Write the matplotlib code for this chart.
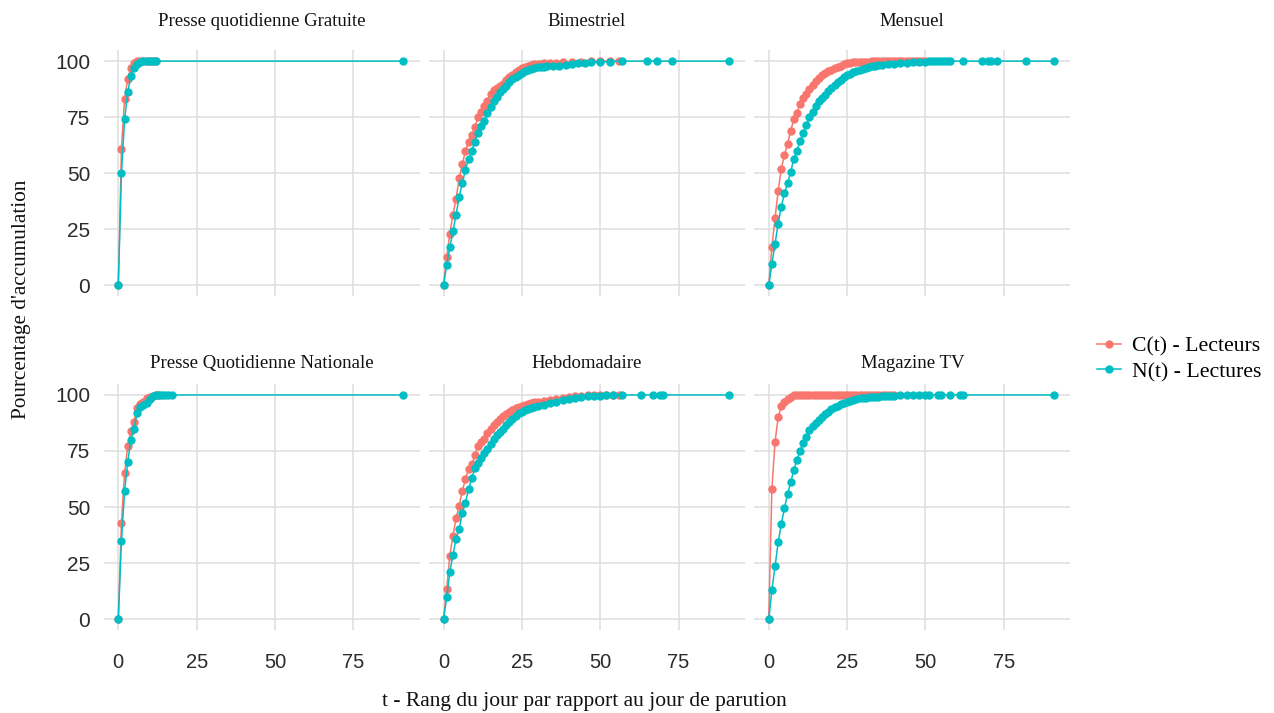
import matplotlib
matplotlib.use("Agg")
import matplotlib.pyplot as plt
from matplotlib.lines import Line2D

# panel titles (facet order, row by row)
panels = ["Presse quotidienne Gratuite", "Bimestriel", "Mensuel",
          "Presse Quotidienne Nationale", "Hebdomadaire", "Magazine TV"]

# C(t) - Lecteurs / N(t) - Lectures
gratuite_t_c = [0, 1, 2, 3, 4, 5, 6, 7, 8, 9, 10, 11, 12]
gratuite_c = [0, 61, 83, 92, 97, 99, 100, 100, 100, 100, 100, 100, 100]
gratuite_t_n = [0, 1, 2, 3, 4, 5, 6, 7, 8, 9, 10, 11, 12, 91]
gratuite_n = [0, 50, 74, 86, 93.5, 97, 98.5, 99.5, 100, 100, 100, 100, 100, 100]

bimestriel_t_c = [0, 1, 2, 3, 4, 5, 6, 7, 8, 9, 10, 11, 12, 13, 14, 15, 16, 17, 18, 19,
                  20, 21, 22, 23, 24, 25, 26, 27, 28, 29, 30, 31, 32,
                  34, 36, 38, 41, 44, 47, 50, 53, 56]
bimestriel_c = [0, 12.5, 23, 31.5, 38.5, 48, 54, 60, 64, 67, 70.5, 75, 77.5, 80, 82, 85.5, 87, 88, 89, 90,
                91.5, 93, 94, 95, 96, 96.8, 97.3, 97.8, 98.2, 98.5, 98.7, 98.9, 99,
                99.2, 99.3, 99.4, 99.6, 99.8, 100, 100, 100, 100]
bimestriel_t_n = [0, 1, 2, 3, 4, 5, 6, 7, 8, 9, 10, 11, 12, 13, 14, 15, 16, 17, 18, 19,
                  20, 21, 22, 23, 24, 25, 26, 27, 28, 29, 30, 31, 32, 33,
                  35, 37, 39, 41, 43, 45, 47, 50, 53, 57, 65, 68, 73, 91]
bimestriel_n = [0, 9, 17, 24, 31.5, 39.5, 45.5, 51.5, 56.5, 60, 64, 68, 71, 73.5, 77, 79.5, 82, 84, 86, 87.5,
                89, 90.5, 92, 93, 94, 94.8, 95.5, 96, 96.5, 97, 97.2, 97.4, 97.5, 97.6,
                97.7, 97.9, 98.2, 98.5, 99, 99.3, 99.5, 99.7, 99.8, 100, 100, 100, 100, 100]

mensuel_t_c = [0, 1, 2, 3, 4, 5, 6, 7, 8, 9, 10, 11, 12, 13, 14, 15, 16, 17, 18, 19,
               20, 21, 22, 23, 24, 25, 26, 27, 28, 29, 30, 31, 32, 33, 34, 35, 36, 37, 38, 39,
               40, 41, 42, 43, 44, 45, 46, 47, 48, 49, 50]
mensuel_c = [0, 17, 30, 42, 52, 58, 63, 69, 74, 77, 81, 83.5, 85.5, 87.5, 89.5, 91, 92.5, 94, 94.8, 95.4,
             96, 96.8, 97.5, 98, 98.6, 99, 99.2, 99.4, 99.5, 99.6, 99.7, 99.75, 99.8, 99.9, 100, 100, 100, 100, 100, 100,
             100, 100, 100, 100, 100, 100, 100, 100, 100, 100, 100]
mensuel_t_n = [0, 1, 2, 3, 4, 5, 6, 7, 8, 9, 10, 11, 12, 13, 14, 15, 16, 17, 18, 19,
               20, 21, 22, 23, 24, 25, 26, 27, 28, 29, 30, 31, 32, 33, 34, 35, 36,
               38, 40, 42, 44, 46, 48, 50, 51, 52, 53, 54, 55, 56, 57, 58, 62, 68, 70, 71, 73, 82, 91]
mensuel_n = [0, 9.5, 18.5, 27.5, 35, 41, 45.5, 50.5, 56.5, 60, 64.5, 68, 71.5, 75, 77.5, 80, 82, 83.5, 85, 86.5,
             88, 89.3, 90.5, 91.7, 92.7, 93.6, 94.3, 95, 95.6, 96.1, 96.6, 97, 97.3, 97.6, 97.9, 98.1, 98.3,
             98.6, 98.9, 99.1, 99.3, 99.5, 99.7, 99.8, 99.85, 99.9, 99.95, 100, 100, 100, 100, 100, 100, 100, 100,
             100, 100, 100, 100]

pqn_t_c = [0, 1, 2, 3, 4, 5, 6, 7, 8, 9, 10, 11, 12, 13]
pqn_c = [0, 43, 65, 77, 84, 88, 94, 96, 97, 98.5, 99.3, 99.7, 100, 100]
pqn_t_n = [0, 1, 2, 3, 4, 5, 6, 7, 8, 9, 10, 11, 12, 13, 14, 15, 16, 17, 91]
pqn_n = [0, 35, 57, 70, 80, 85, 92, 94.5, 95.5, 96.5, 98, 99.5, 99.8, 100, 100, 100, 100, 100, 100]

hebdo_t_c = [0, 1, 2, 3, 4, 5, 6, 7, 8, 9, 10, 11, 12, 13, 14, 15, 16, 17, 18, 19,
             20, 21, 22, 23, 24, 25, 26, 27, 28, 29, 30,
             32, 34, 36, 38, 40, 42, 44, 46, 48, 50, 52, 54, 56]
hebdo_c = [0, 13.4, 28.3, 37.2, 45, 50.6, 57.3, 62.5, 67, 69, 73, 77, 79, 80.5, 83, 84.8, 86.5, 88, 89.2, 90.5,
           91.5, 92.5, 93.3, 94, 94.7, 95.2, 95.6, 96, 96.4, 96.7, 97,
           97.5, 97.9, 98.3, 98.7, 99.1, 99.4, 99.6, 99.8, 99.9, 100, 100, 100, 100]
hebdo_t_n = [0, 1, 2, 3, 4, 5, 6, 7, 8, 9, 10, 11, 12, 13, 14, 15, 16, 17, 18, 19,
             20, 21, 22, 23, 24, 25, 26, 27, 28, 29, 30,
             32, 34, 36, 38, 40, 42, 44, 46, 48, 50, 52, 54, 57, 63, 67, 69, 70, 91]
hebdo_n = [0, 9.7, 20.8, 28.7, 35.7, 40.2, 47.3, 52, 58, 62.8, 67.3, 69.6, 72, 74, 76, 78, 80.4, 82, 83.5, 84.8,
           86.5, 87.8, 89.3, 90.8, 91.8, 92.6, 93.2, 93.8, 94.2, 94.6, 95,
           95.7, 96.3, 97, 97.6, 98, 98.5, 99, 99.4, 99.6, 99.7, 99.8, 99.9, 100, 100, 100, 100, 100, 100]

tv_t_c = [0, 1, 2, 3, 4, 5, 6, 7, 8, 9, 10, 11, 12, 13, 14, 15, 16, 17, 18, 19,
          20, 21, 22, 23, 24, 25, 26, 27, 28, 29, 30, 31, 32, 33, 34, 35, 36, 37, 38, 39, 40]
tv_c = [0, 58, 79, 90, 95, 96.7, 98, 99.2, 99.8, 100, 100, 100, 100, 100, 100, 100, 100, 100, 100, 100,
        100, 100, 100, 100, 100, 100, 100, 100, 100, 100, 100, 100, 100, 100, 100, 100, 100, 100, 100, 100, 100]
tv_t_n = [0, 1, 2, 3, 4, 5, 6, 7, 8, 9, 10, 11, 12, 13, 14, 15, 16, 17, 18, 19,
          20, 21, 22, 23, 24, 25, 26, 27, 28, 29, 30, 31, 32, 33, 34, 35, 36, 37, 38, 39, 40,
          42, 44, 46, 48, 50, 51, 54, 55, 58, 61, 62, 91]
tv_n = [0, 12.9, 23.5, 34.2, 42.4, 49.4, 55.8, 61, 66.5, 71, 75.1, 78.4, 81.1, 84.4, 86, 87.5, 88.8, 90, 91.3, 92.6,
        93.6, 94.5, 95.2, 95.8, 96.4, 96.9, 97.4, 97.9, 98.2, 98.5, 98.7, 98.8, 99, 99.1, 99.2, 99.3, 99.4, 99.5, 99.6, 99.65, 99.7,
        99.8, 99.85, 99.9, 100, 100, 100, 100, 100, 100, 100, 100, 100]

series = [
    (gratuite_t_c, gratuite_c, gratuite_t_n, gratuite_n),
    (bimestriel_t_c, bimestriel_c, bimestriel_t_n, bimestriel_n),
    (mensuel_t_c, mensuel_c, mensuel_t_n, mensuel_n),
    (pqn_t_c, pqn_c, pqn_t_n, pqn_n),
    (hebdo_t_c, hebdo_c, hebdo_t_n, hebdo_n),
    (tv_t_c, tv_c, tv_t_n, tv_n),
]

red = '#F8766D'
cyan = '#00BFC4'
serif = ['Liberation Serif', 'DejaVu Serif']
sans = ['Liberation Sans', 'DejaVu Sans']

fig, axes = plt.subplots(2, 3, figsize=(12.74, 7.13), dpi=100, sharex=True, sharey=True)
fig.subplots_adjust(left=0.0816, right=0.840, top=0.930, bottom=0.116, wspace=0.03, hspace=0.354)

for i, ax in enumerate(axes.flat):
    tc, c, tn, n = series[i]
    ax.plot(tc, c, color=red, lw=1.1, marker='o', ms=5, zorder=3)
    ax.plot(tn, n, color=cyan, lw=1.1, marker='o', ms=5, zorder=4)
    ax.set_xlim(-4.58, 96.2)
    ax.set_ylim(-5, 105)
    ax.set_xticks([0, 25, 50, 75])
    ax.set_yticks([0, 25, 50, 75, 100])
    ax.grid(True, color='#dedede', lw=1.1)
    ax.set_axisbelow(True)
    for s in ax.spines.values():
        s.set_visible(False)
    ax.tick_params(length=0, labelcolor='#2b2b2b')
    ax.tick_params(axis='y', pad=10)
    ax.tick_params(axis='x', pad=16)
    for lab in ax.get_yticklabels():
        lab.set_family(sans)
        lab.set_fontsize(15)
    for lab in ax.get_xticklabels():
        lab.set_family(sans)
        lab.set_fontsize(14.5)
    pad = 17 if i < 3 else 11
    ax.set_title(panels[i], family=serif, fontsize=13.5, color='#111111', pad=pad)

fig.text(0.0165, 0.58, "Pourcentage d'accumulation", rotation=90, ha='center', va='center',
         family=serif, fontsize=15.3, color='#111111')
fig.text(0.459, 0.0155, "t - Rang du jour par rapport au jour de parution", ha='center', va='center',
         family=serif, fontsize=15.5, color='#111111')

handles = [Line2D([], [], color=red, lw=1.1, marker='o', ms=5),
           Line2D([], [], color=cyan, lw=1.1, marker='o', ms=5)]
fig.legend(handles, ['C(t) - Lecteurs', 'N(t) - Lectures'], loc='center left',
           bbox_to_anchor=(0.846, 0.4965), frameon=False,
           prop={'family': serif, 'size': 15.7},
           handlelength=1.1, handletextpad=0.5, labelspacing=0.25)

fig.savefig('out.png', dpi=100)
